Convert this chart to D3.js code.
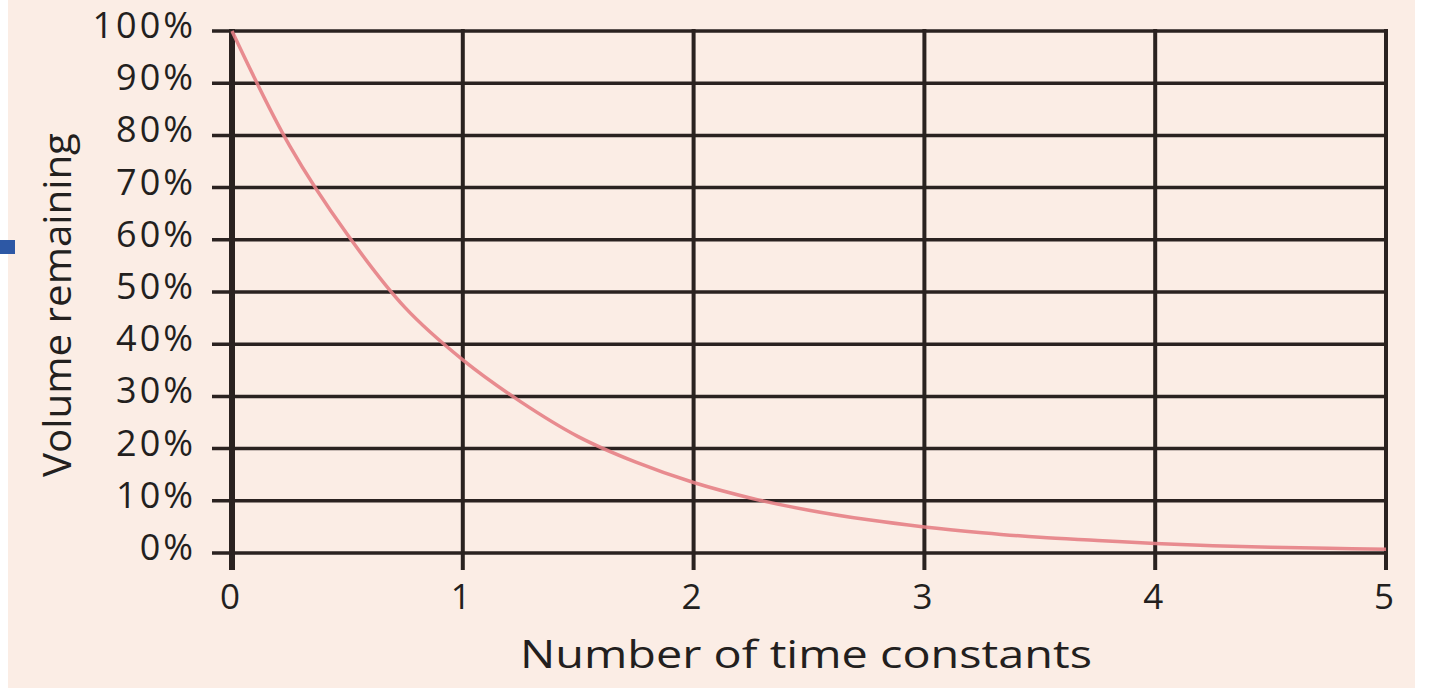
<!DOCTYPE html>
<html>
<head>
<meta charset="utf-8">
<script src="https://cdn.jsdelivr.net/npm/d3@7"></script>
<style>
  html, body { margin: 0; padding: 0; background: #ffffff; }
  svg { display: block; }
  text { font-family: "Open Sans", "Noto Sans", sans-serif; fill: #231f1e; }
</style>
</head>
<body>
<svg id="chart" width="1440" height="691"></svg>
<script>
// ---- data ----
const timeConstants = [0, 0.25, 0.5, 0.75, 1, 1.25, 1.5, 1.75, 2, 2.25, 2.5, 2.75, 3, 3.25, 3.5, 3.75, 4, 4.25, 4.5, 4.75, 5];
const volumeRemaining = [100, 78, 61, 47, 37, 29, 22.3, 17.4, 13.5, 10.5, 8.2, 6.4, 5, 3.9, 3, 2.4, 1.8, 1.4, 1.1, 0.9, 0.7];
const xTicks = [0, 1, 2, 3, 4, 5];
const yTicks = [0, 10, 20, 30, 40, 50, 60, 70, 80, 90, 100];
const xTitle = "Number of time constants";
const yTitle = "Volume remaining";

// ---- layout ----
const svg = d3.select("#chart");
const mLeft = 232, mRight = 1386, mTop = 31, mBottom = 553;

svg.append("rect").attr("x", 8).attr("y", 0).attr("width", 1407).attr("height", 688).attr("fill", "#fbede5");
svg.append("rect").attr("x", 0).attr("y", 240).attr("width", 15).attr("height", 14).attr("fill", "#2d58a5");

const x = d3.scaleLinear().domain([0, 5]).range([mLeft, mRight]);
const y = d3.scaleLinear().domain([0, 100]).range([mBottom, mTop]);

const gridColor = "#2a2220";

// horizontal gridlines
svg.append("g").selectAll("line").data(yTicks).join("line")
  .attr("x1", x(0) - 20).attr("x2", x(5) + 2)
  .attr("y1", d => y(d)).attr("y2", d => y(d))
  .attr("stroke", gridColor).attr("stroke-width", 3.5);

// vertical gridlines
svg.append("g").selectAll("line").data(xTicks).join("line")
  .attr("x1", d => x(d)).attr("x2", d => x(d))
  .attr("y1", y(100) - 2).attr("y2", y(0) + 17)
  .attr("stroke", gridColor).attr("stroke-width", d => d === 0 ? 6 : 4);

// curve
const line = d3.line().x((d, i) => x(timeConstants[i])).y(d => y(d)).curve(d3.curveCatmullRom);
svg.append("path").datum(volumeRemaining)
  .attr("d", line).attr("fill", "none")
  .attr("stroke", "#e57f85").attr("stroke-width", 3.5).attr("opacity", 0.9);

// y tick labels
svg.append("g").selectAll("text").data(yTicks).join("text")
  .attr("x", 196).attr("y", d => y(d) + 7)
  .attr("text-anchor", "end").attr("font-size", 36).attr("font-weight", 500)
  .attr("letter-spacing", 3)
  .text(d => d + "%");

// x tick labels
svg.append("g").selectAll("text").data(xTicks).join("text")
  .attr("x", d => x(d) - 2).attr("y", 609)
  .attr("text-anchor", "middle").attr("font-size", 35).attr("font-weight", 500)
  .text(d => d);

// axis titles
svg.append("text").attr("x", 806).attr("y", 668)
  .attr("text-anchor", "middle").attr("font-size", 39).attr("font-weight", 500)
  .attr("textLength", 572).attr("lengthAdjust", "spacingAndGlyphs")
  .text(xTitle);

svg.append("text").attr("transform", "translate(71,305) rotate(-90)")
  .attr("text-anchor", "middle").attr("font-size", 39).attr("font-weight", 500)
  .attr("textLength", 344).attr("lengthAdjust", "spacingAndGlyphs")
  .text(yTitle);
</script>
</body>
</html>
